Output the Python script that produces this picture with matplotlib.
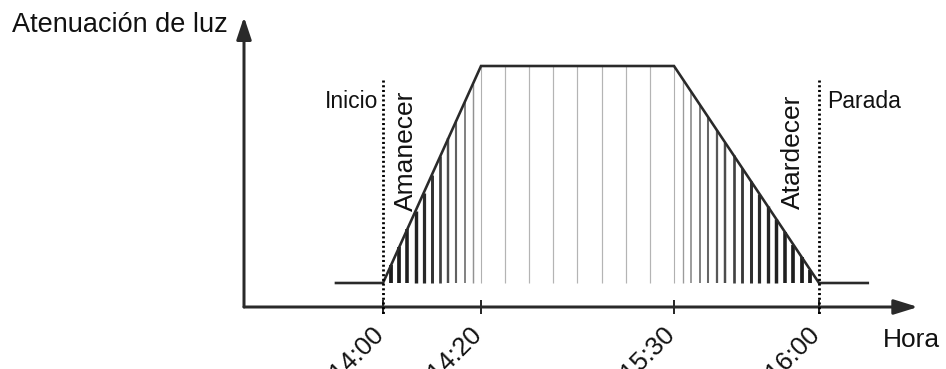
import numpy as np
import matplotlib
matplotlib.use("Agg")
import matplotlib.pyplot as plt

# ---------------- data ----------------
profile_min = [-9.6, 0, 20, 90, 120, 130.1]      # minutes after 14:00
profile_level = [0, 0, 100, 100, 0, 0]           # light level (%)
tick_min = [0, 20, 90, 120]
tick_labels = ["14:00", "14:20", "15:30", "16:00"]
start_min, stop_min = 0, 120
n_rise, n_plateau, n_fall = 12, 8, 17            # hatch intervals per segment

# ---------------- layout helpers (pixel layout of the schematic) ----------------
W, H = 946, 369
XK_MIN = np.array([-1000.0, 0, 20, 90, 120, 1000])
XK_PX = np.array([383 - 1000 * 4.9, 383, 481, 674, 819, 819 + 880 * 4.83])


def fwd(m):
    return np.interp(m, XK_MIN, XK_PX)


def inv(p):
    return np.interp(p, XK_PX, XK_MIN)


Y0_PX, YSCALE = 283.0, 2.17


def vy(py):  # pixel row -> level value
    return (Y0_PX - py) / YSCALE


def vx(px):  # pixel column -> minutes
    return float(inv(px))


fig = plt.figure(figsize=(W / 100, H / 100), dpi=100)
ax = fig.add_axes([0, 0, 1, 1])
ax.set_xscale("function", functions=(fwd, inv))
ax.set_xlim(vx(0), vx(W))
ax.set_ylim(vy(H), vy(0))
ax.axis("off")

dark = "#2a2a2a"
FONT = "Liberation Sans"
pt = 0.72  # px -> pt

# ---------------- hatch lines ----------------
def hatch(xs, t):
    lv = np.interp(xs, profile_min, profile_level)
    widths = (3.8 - 2.7 * t ** 1.5) * pt
    greys = 0.11 + 0.58 * t ** 2.4
    cols = [(g, g, g) for g in greys]
    ax.vlines(xs, 0, lv, colors=cols, linewidths=widths, zorder=2)

xr = np.linspace(start_min, tick_min[1], n_rise + 1)[1:]
hatch(xr, np.linspace(0, 1, len(xr)))
xp = np.linspace(tick_min[1], tick_min[2], n_plateau + 1)[1:-1]
ax.vlines(xp, 0, np.interp(xp, profile_min, profile_level),
          colors="#b4b4b4", linewidths=1.2 * pt, zorder=2)
xf = np.linspace(tick_min[2], stop_min, n_fall + 1)[:-1]
hatch(xf, np.linspace(1, 0, len(xf)))

# ---------------- profile ----------------
ax.plot(profile_min, profile_level, color=dark, lw=2.6 * pt, zorder=4,
        solid_joinstyle="miter")

# ---------------- axes with arrows ----------------
ax_x0 = vx(244)
ax_y0 = vy(307)
ax.annotate("", xy=(vx(918), ax_y0), xytext=(ax_x0, ax_y0),
            arrowprops=dict(arrowstyle="-|>,head_length=1.45,head_width=0.45",
                            mutation_scale=10, lw=3 * pt, color=dark,
                            shrinkA=0, shrinkB=0), zorder=5)
ax.annotate("", xy=(ax_x0, vy(17)), xytext=(ax_x0, ax_y0),
            arrowprops=dict(arrowstyle="-|>,head_length=1.35,head_width=0.45",
                            mutation_scale=10, lw=3 * pt, color=dark,
                            shrinkA=0, shrinkB=0), zorder=5)

# ticks
ax.vlines(tick_min, vy(314), vy(300), colors=dark, lw=2 * pt, zorder=5)

# dotted markers
for m in (start_min, stop_min):
    ax.plot([m, m], [vy(80), vy(316)], color="#000000", lw=2.0,
            linestyle=(0, (0.75, 0.95)), zorder=6)

# tick labels
for m, lab in zip(tick_min, tick_labels):
    ax.annotate(lab, xy=(m, ax_y0), xytext=(5, -15), textcoords="offset pixels",
                rotation=45, ha="right", va="top", fontsize=18.5,
                family=FONT, color="#111111")

# ---------------- texts ----------------
ax.text(vx(12), vy(32), "Atenuación de luz", ha="left", va="baseline",
        fontsize=19.5, family=FONT, color="#111111")
ax.text(vx(883), vy(347), "Hora", ha="left", va="baseline",
        fontsize=19, family=FONT, color="#111111")
ax.annotate("Inicio", xy=(start_min, vy(108)), xytext=(-5, 0),
            textcoords="offset pixels", ha="right", va="baseline",
            fontsize=16.5, family=FONT, color="#111111")
ax.annotate("Parada", xy=(stop_min, vy(108)), xytext=(8, 0),
            textcoords="offset pixels", ha="left", va="baseline",
            fontsize=16.5, family=FONT, color="#111111")
ax.text(vx(406), vy(151), "Amanecer", rotation=90, ha="center", va="center",
        fontsize=19, family=FONT, color="#111111")
ax.text(vx(792.5), vy(151.5), "Atardecer", rotation=90, ha="center",
        va="center", fontsize=19, family=FONT, color="#111111")

fig.savefig("out.png", dpi=100)
